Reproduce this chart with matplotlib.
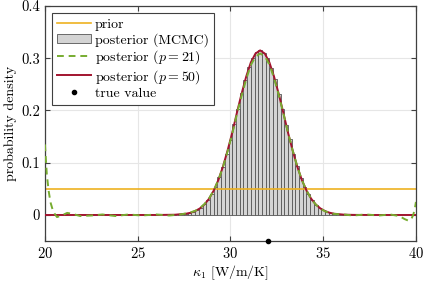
import matplotlib
matplotlib.use("Agg")
import matplotlib.pyplot as plt
from matplotlib.ticker import FormatStrFormatter

plt.rcParams['font.family'] = 'serif'
plt.rcParams['font.serif'] = ['cmr10']
plt.rcParams['mathtext.fontset'] = 'cm'
plt.rcParams['axes.formatter.use_mathtext'] = True
plt.rcParams['font.size'] = 10

# prior (uniform on [20, 40])
prior_x = [20, 40]
prior_y = [0.05, 0.05]

# MCMC histogram (bin centres, densities)
hist_centers = [27.0, 27.2, 27.4, 27.6, 27.8, 28.0, 28.2, 28.4, 28.6, 28.8,
                29.0, 29.2, 29.4, 29.6, 29.8, 30.0, 30.2, 30.4, 30.6, 30.8,
                31.0, 31.2, 31.4, 31.6, 31.8, 32.0, 32.2, 32.4, 32.6, 32.8,
                33.0, 33.2, 33.4, 33.6, 33.8, 34.0, 34.2, 34.4, 34.6, 34.8,
                35.0, 35.2, 35.4, 35.6, 35.8, 36.0, 36.2, 36.4, 36.6, 36.8]
hist_vals = [0.0005, 0.0009, 0.0015, 0.0025, 0.0037, 0.0062, 0.0090, 0.0140, 0.0205, 0.0285,
             0.0405, 0.0540, 0.0725, 0.0925, 0.1175, 0.1440, 0.1735, 0.2025, 0.2325, 0.2585,
             0.2825, 0.2995, 0.3115, 0.3160, 0.3105, 0.3005, 0.2815, 0.2595, 0.2315, 0.2035,
             0.1725, 0.1445, 0.1165, 0.0935, 0.0715, 0.0545, 0.0398, 0.0290, 0.0200, 0.0140,
             0.0092, 0.0061, 0.0038, 0.0024, 0.0014, 0.0009, 0.0005, 0.0003, 0.0002, 0.0001]

# posterior, p = 50
p50_x = [20, 24, 26, 27, 27.6, 27.85, 28.1, 28.35, 28.6, 28.85, 29.1, 29.35, 29.6,
         29.85, 30.1, 30.35, 30.6, 30.85, 31.1, 31.35, 31.6, 31.85, 32.1, 32.35,
         32.6, 32.85, 33.1, 33.35, 33.6, 33.85, 34.1, 34.35, 34.6, 34.85, 35.1,
         35.35, 35.6, 36.1, 36.6, 37.5, 40]
p50_y = [0.0, 0.0, 0.0, 0.0005, 0.0024, 0.0043, 0.0075, 0.0125, 0.0202, 0.0313,
         0.0468, 0.067, 0.093, 0.124, 0.158, 0.196, 0.232, 0.265, 0.292, 0.309,
         0.315, 0.309, 0.292, 0.265, 0.232, 0.196, 0.158, 0.124, 0.093, 0.067,
         0.0468, 0.0313, 0.0202, 0.0125, 0.0075, 0.0043, 0.0024, 0.0007, 0.0002,
         0.0, 0.0]

# posterior, p = 21
p21_x = [20, 20.1, 20.2, 20.3, 20.45, 20.65, 20.9, 21.2, 21.5, 21.9, 22.5, 23.1,
         23.8, 24.5, 25.2, 26, 26.7, 27.3, 27.6, 27.85, 28.1, 28.35, 28.6, 28.85,
         29.1, 29.35, 29.6, 29.85, 30.1, 30.35, 30.6, 30.85, 31.1, 31.35, 31.6,
         31.85, 32.1, 32.35, 32.6, 32.85, 33.1, 33.35, 33.6, 33.85, 34.1, 34.35,
         34.6, 34.85, 35.1, 35.35, 35.6, 36.1, 36.6, 37.3, 38, 38.6, 39.1, 39.4,
         39.6, 39.75, 39.85, 39.93, 40]
p21_y = [0.135, 0.078, 0.046, 0.024, 0.006, -0.004, -0.001, 0.004, 0.002, -0.002,
         -0.001, 0.001, -0.002, 0.001, -0.001, 0.001, -0.001, 0.001, 0.003, 0.005,
         0.008, 0.013, 0.021, 0.032, 0.047, 0.067, 0.092, 0.122, 0.156, 0.193,
         0.228, 0.260, 0.287, 0.303, 0.309, 0.304, 0.288, 0.262, 0.230, 0.195,
         0.158, 0.124, 0.093, 0.067, 0.047, 0.031, 0.020, 0.012, 0.007, 0.004,
         0.002, 0.001, -0.001, 0.001, -0.001, 0.001, -0.002, -0.008, -0.011,
         -0.008, 0.0, 0.010, 0.025]

true_x = 32.0

c_prior = '#EDB120'
c_p21 = '#77AC30'
c_p50 = '#A2142F'

fig = plt.figure(figsize=(4.24, 2.84), dpi=100)
ax = fig.add_axes([0.106, 0.151, 0.875, 0.828])

h_prior, = ax.plot(prior_x, prior_y, color=c_prior, lw=1.2, label='prior')
h_hist = ax.bar(hist_centers, hist_vals, width=0.2, color='#d4d4d4', edgecolor='#555555',
                linewidth=0.6, label='posterior (MCMC)')
h_p21, = ax.plot(p21_x, p21_y, color=c_p21, lw=1.4, ls=(0, (3.5, 2.5)),
                 label='posterior ($p = 21$)', zorder=4)
h_p50, = ax.plot(p50_x, p50_y, color=c_p50, lw=1.4, label='posterior ($p = 50$)', zorder=3)
h_true, = ax.plot([true_x], [-0.05], 'o', color='k', ms=3, clip_on=False, zorder=6,
                  label='true value')

ax.set_xlim(20, 40)
ax.set_ylim(-0.05, 0.4)
ax.set_xticks([20, 25, 30, 35, 40])
ax.set_yticks([0, 0.1, 0.2, 0.3, 0.4])
ax.yaxis.set_major_formatter(FormatStrFormatter('%g'))
ax.tick_params(labelsize=10.5)
ax.grid(True, color='#e6e6e6', lw=0.8)
ax.set_axisbelow(True)
ax.tick_params(direction='in', top=True, right=True, length=3.5, color='#404040', width=0.8)
for s in ax.spines.values():
    s.set_color('#404040')
    s.set_linewidth(0.9)

ax.set_xlabel(r'$\kappa_1$ [W/m/K]', labelpad=2)
ax.set_ylabel('probability density', labelpad=3)

leg = ax.legend([h_prior, h_hist, h_p21, h_p50, h_true],
                ['prior', 'posterior (MCMC)', 'posterior ($p = 21$)',
                 'posterior ($p = 50$)', 'true value'],
                loc='upper left', fancybox=False, edgecolor='#404040', framealpha=1,
                borderaxespad=0.5, handlelength=2.4, handletextpad=0.3,
                labelspacing=0.12, borderpad=0.4)
leg.get_frame().set_linewidth(0.8)

fig.savefig('out.png', dpi=100)
